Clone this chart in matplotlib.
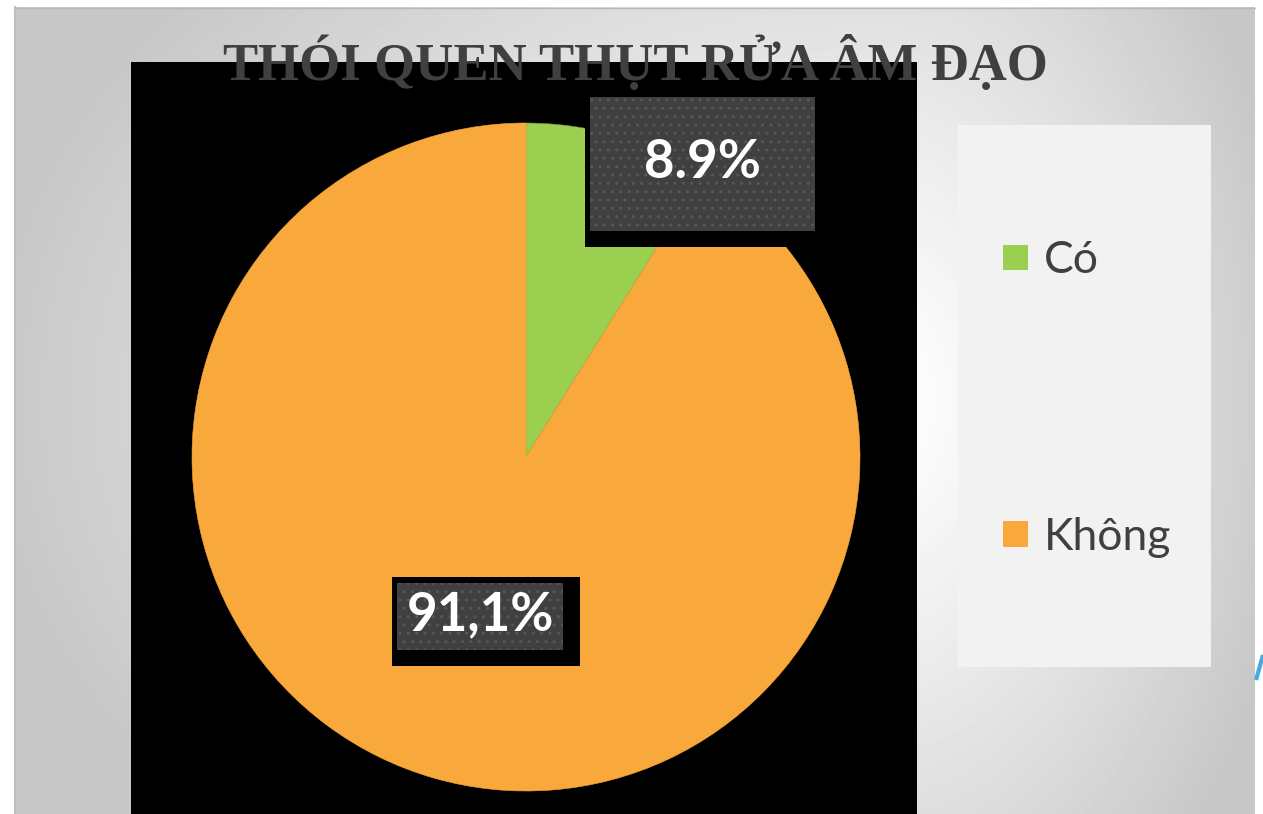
import numpy as np
import matplotlib
matplotlib.use("Agg")
import matplotlib.pyplot as plt
from matplotlib.patches import Rectangle

# survey answers
categories = ["Có", "Không"]
values = [8.9, 91.1]
value_labels = ["8.9%", "91,1%"]
colors = ["#9bcf4f", "#f9a83b"]
title = "THÓI QUEN THỤT RỬA ÂM ĐẠO"

W, H = 1263, 814
fig = plt.figure(figsize=(W / 100, H / 100), dpi=100)

# slide background: white page with a soft grey radial gradient panel
bg = fig.add_axes([0, 0, 1, 1])
bg.set_xlim(0, W)
bg.set_ylim(H, 0)
bg.set_axis_off()
xx, yy = np.meshgrid(np.arange(14, 1255), np.arange(7, H))
cx, cy = 880, 400
sx = np.where(xx < cx, 900.0, 420.0)
r = np.sqrt(((xx - cx) / sx) ** 2 + ((yy - cy) / 650.0) ** 2)
shade = 1 - 0.22 * np.clip(r, 0, 1) ** 1.2
bg.imshow(shade, cmap="gray", vmin=0, vmax=1, extent=(14, 1255, H, 7),
          aspect="auto", interpolation="bilinear")
bg.plot([14, 1255], [7.5, 7.5], color="#b8b8b8", lw=1)
bg.plot([14.5, 14.5], [7, H], color="#bdbdbd", lw=1.5)
bg.plot([1256, 1263], [680, 655], color="#4aa8e0", lw=3, solid_capstyle="butt")
bg.set_xlim(0, W)
bg.set_ylim(H, 0)

# chart area (units are pixels)
ax = fig.add_axes([131 / W, 0, 786 / W, 752 / H])
ax.add_patch(Rectangle((0, 0), 1, 1, transform=ax.transAxes, color="black", zorder=0))
wedges, _ = ax.pie(values, colors=colors, startangle=90, counterclock=False,
                   center=(395, 357), radius=334,
                   wedgeprops=dict(linewidth=0.4, edgecolor="#6f8f3a"))
wedges[1].set_edgecolor(colors[1])
ax.set_xlim(0, 786)
ax.set_ylim(0, 752)
ax.set_axis_off()

# value labels: black backing box + dark dotted box
label_boxes = [(590, 97, 815, 231), (397, 583, 563, 650)]
for (x0, y0, x1, y1), txt in zip(label_boxes, value_labels):
    ax.add_patch(Rectangle((x0 - 131 - 5, H - y1 - 16), (x1 - x0) + 22, (y1 - y0) + 22,
                           facecolor="black", edgecolor="none", zorder=3))
    ax.add_patch(Rectangle((x0 - 131, H - y1), x1 - x0, y1 - y0,
                           facecolor="#404040", edgecolor="#575757", lw=0,
                           hatch="..", zorder=4))
    ax.text((x0 + x1) / 2 - 131, H - (y0 + y1) / 2 + 2, txt, color="white",
            fontsize=38, fontweight="bold", family="Lato",
            ha="center", va="center", zorder=5)

# legend panel
lax = fig.add_axes([958 / W, (H - 667) / H, 253 / W, 542 / H])
lax.set_facecolor("#f2f2f2")
lax.set_xticks([])
lax.set_yticks([])
for s in lax.spines.values():
    s.set_visible(False)
leg = lax.legend(wedges, categories, loc="center left",
                 bbox_to_anchor=((1003 - 958) / 253, (667 - 399) / 542),
                 frameon=False, borderpad=0, borderaxespad=0,
                 prop=dict(family="Lato", size=32),
                 handlelength=0.57, handleheight=0.5, handletextpad=0.35,
                 labelspacing=5.3)
for t in leg.get_texts():
    t.set_color("#404040")
for h in leg.legend_handles:
    h.set_edgecolor("none")

fig.text(635 / W, 1 - 80 / H, title, ha="center", va="baseline",
         family="Liberation Serif", fontweight="bold", fontsize=38,
         color="#404040", zorder=10)

fig.savefig("out.png", dpi=100)
